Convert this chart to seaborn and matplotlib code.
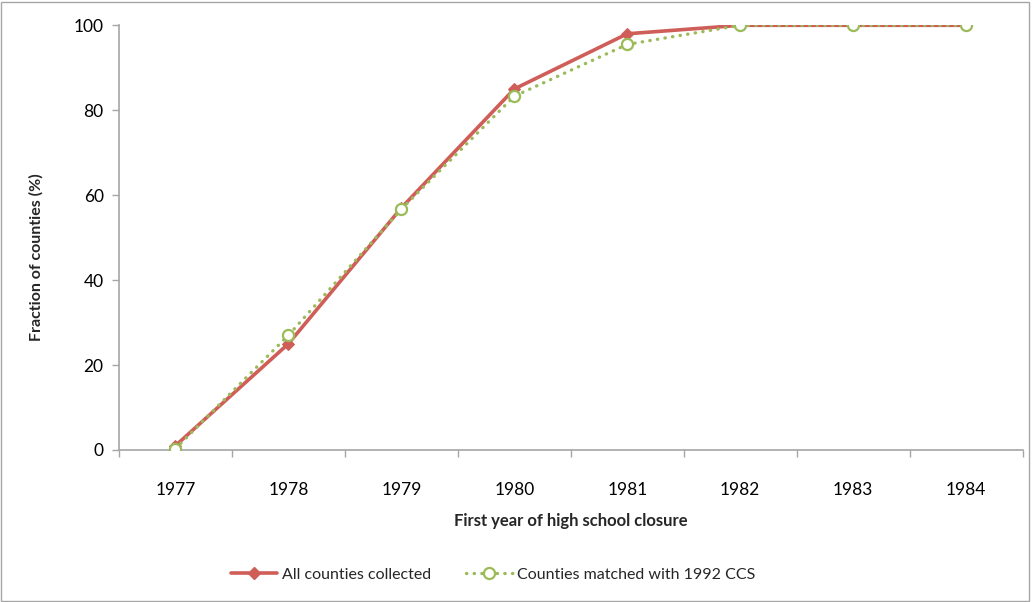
import matplotlib
matplotlib.use("Agg")
import matplotlib.pyplot as plt
import matplotlib.patches as mpatches
from matplotlib.lines import Line2D
from matplotlib.ticker import FixedLocator
import seaborn as sns
import pandas as pd

# data
years = [1977, 1978, 1979, 1980, 1981, 1982, 1983, 1984]
all_collected = [1.0, 25.0, 57.0, 85.0, 98.0, 100.0, 100.0, 100.0]
matched_ccs = [0.3, 27.0, 56.7, 83.3, 95.5, 100.0, 100.0, 100.0]

red = "#CF5E58"
green = "#9BBB59"
axis_grey = "#A6A6A6"

sns.set_theme(style="white")
plt.rcParams["font.family"] = ["Lato", "DejaVu Sans"]

df = pd.DataFrame({"year": years, "all": all_collected, "ccs": matched_ccs})

fig = plt.figure(figsize=(10.34, 6.02), dpi=100)
ax = fig.add_axes([0.115, 0.2525, 0.874, 0.7055])

dots = (0, (0.1, 2.2))
sns.lineplot(data=df, x="year", y="all", ax=ax, color=red, linewidth=2.6,
             marker="D", markersize=6.5, markeredgecolor=red, zorder=2)
sns.lineplot(data=df, x="year", y="ccs", ax=ax, color=green, linewidth=2.4,
             linestyle=dots, dash_capstyle="round",
             marker="o", markersize=8, markerfacecolor="white",
             markeredgecolor=green, markeredgewidth=1.6, zorder=3)

ax.set_xlim(years[0] - 0.5, years[-1] + 0.5)
ax.set_ylim(0, 100)
ax.set_yticks([0, 20, 40, 60, 80, 100])
ax.set_xticks(years)
ax.set_xticklabels([str(y) for y in years])
ax.xaxis.set_minor_locator(FixedLocator([y - 0.5 for y in years] + [years[-1] + 0.5]))
ax.tick_params(axis="x", which="major", length=0, pad=23, labelsize=12.5, colors="black")
ax.tick_params(axis="x", which="minor", length=5, width=1, color=axis_grey, direction="out", bottom=True)
ax.tick_params(axis="y", length=5, width=1, color=axis_grey, direction="out", left=True,
               labelsize=12.5, pad=6, colors="black")

for s in ["top", "right"]:
    ax.spines[s].set_visible(False)
for s in ["left", "bottom"]:
    ax.spines[s].set_color(axis_grey)
    ax.spines[s].set_linewidth(1.2)

ax.set_xlabel("First year of high school closure", fontsize=12, fontweight="bold", labelpad=11)
ax.set_ylabel("Fraction of counties (%)", fontsize=11.5, fontweight="bold")
ax.yaxis.set_label_coords(-0.083, 0.455)

handles = [
    Line2D([], [], color=red, linewidth=2.6, marker="D", markersize=6.5),
    Line2D([], [], color=green, linewidth=2.4, linestyle=dots,
           dash_capstyle="round", marker="o", markersize=8,
           markerfacecolor="white", markeredgecolor=green, markeredgewidth=1.6),
]
fig.legend(handles, ["All counties collected", "Counties matched with 1992 CCS"],
           loc="center", bbox_to_anchor=(0.477, 0.045), ncol=2, frameon=False,
           fontsize=11.5, handlelength=2.9, columnspacing=2.2, handletextpad=0.3)

fig.patches.append(mpatches.Rectangle((0.001, 0.002), 0.994, 0.995, transform=fig.transFigure,
                                      fill=False, edgecolor=axis_grey, linewidth=1))

fig.savefig("out.png", dpi=100)
